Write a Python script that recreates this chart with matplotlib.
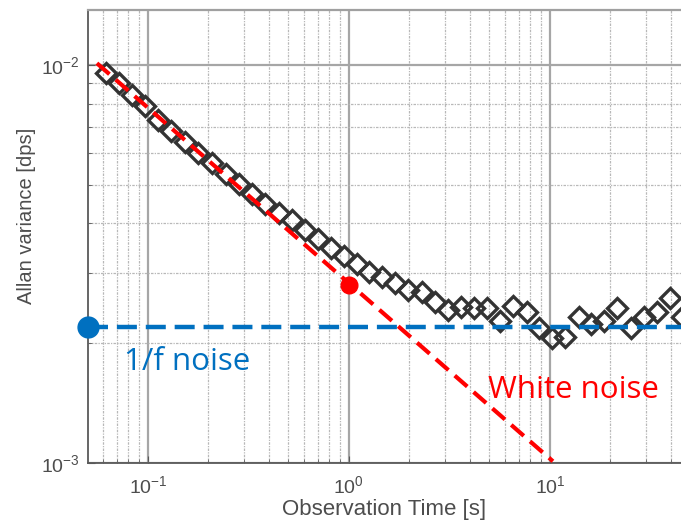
'''
Allan variance vs observation time (log-log)
'''
from matplotlib import pyplot as plt
from matplotlib.ticker import LogLocator, NullFormatter
import numpy as np

plt.rcParams['font.family'] = ['Liberation Sans', 'DejaVu Sans']

tau = [0.0618, 0.0717, 0.0832, 0.0966, 0.112, 0.130, 0.153, 0.177, 0.208, 0.244,
       0.284, 0.329, 0.382, 0.448, 0.520, 0.604, 0.701, 0.813, 0.944, 1.10,
       1.26, 1.46, 1.69, 1.97, 2.31, 2.68, 3.11, 3.61, 4.19, 4.86,
       5.64, 6.55, 7.69, 8.82, 10.2, 11.9, 13.9, 16.0, 18.6, 21.5,
       25.3, 29.4, 34.1, 39.5, 45.4]
avar = [9.55e-3, 9.01e-3, 8.41e-3, 7.89e-3, 7.27e-3, 6.83e-3, 6.41e-3, 6.01e-3, 5.67e-3, 5.32e-3,
        5.02e-3, 4.74e-3, 4.48e-3, 4.25e-3, 4.08e-3, 3.85e-3, 3.66e-3, 3.47e-3, 3.31e-3, 3.16e-3,
        3.02e-3, 2.93e-3, 2.83e-3, 2.72e-3, 2.69e-3, 2.54e-3, 2.42e-3, 2.47e-3, 2.45e-3, 2.45e-3,
        2.27e-3, 2.48e-3, 2.40e-3, 2.18e-3, 2.06e-3, 2.07e-3, 2.33e-3, 2.24e-3, 2.27e-3, 2.45e-3,
        2.18e-3, 2.33e-3, 2.40e-3, 2.60e-3, 2.33e-3]

# white noise asymptote and 1/f floor
white_x = [0.0557, 10.35]
white_y = [1.01e-2, 1.01e-3]
white_pt = (1.0, 2.8e-3)
flicker_level = 2.2e-3

xlim = (0.0503, 44.9)
ylim = (1e-3, 1.374e-2)

fig = plt.figure(figsize=(6.81, 5.30), dpi=100)
ax = fig.add_axes([0.1292, 0.1264, 0.8708, 0.8547])
ax.set_xscale('log')
ax.set_yscale('log')
ax.set_xlim(*xlim)
ax.set_ylim(*ylim)

ax.xaxis.set_major_locator(LogLocator(base=10))
ax.xaxis.set_minor_locator(LogLocator(base=10, subs=np.arange(2, 10)))
ax.yaxis.set_major_locator(LogLocator(base=10))
ax.yaxis.set_minor_locator(LogLocator(base=10, subs=np.arange(2, 10)))
ax.xaxis.set_minor_formatter(NullFormatter())
ax.yaxis.set_minor_formatter(NullFormatter())

ax.grid(True, which='major', color='#a6a6a6', lw=1.6, ls='-', zorder=0)
ax.grid(True, which='minor', color='#b8b8b8', lw=0.9, ls=(0, (2, 1, 1, 1)), zorder=0)
ax.set_axisbelow(True)

ax.tick_params(which='both', direction='in', colors='#595959', labelsize=14,
               labelcolor='#4d4d4d', top=False, right=False)
ax.tick_params(which='major', length=5)
ax.tick_params(which='minor', length=3)
ax.tick_params(axis='x', pad=9)
ax.tick_params(axis='y', pad=6)
for s in ['left', 'bottom']:
    ax.spines[s].set_color('#595959')
    ax.spines[s].set_linewidth(1.3)
ax.spines['top'].set_color('#a0a0a0')
ax.spines['top'].set_linewidth(1.6)
ax.spines['right'].set_visible(False)

ax.plot(tau, avar, ls='none', marker='D', ms=10.5, mfc='none', mec='#333333', mew=2.4, zorder=3)

ax.plot(white_x, white_y, color='#ff0000', lw=3, ls=(0, (4, 2)), zorder=4, clip_on=False)
ax.plot(*white_pt, 'o', color='#ff0000', ms=12, zorder=5)

ax.axhline(flicker_level, color='#0070c0', lw=3.2, ls=(0, (4.5, 2)), zorder=4)
ax.plot(xlim[0], flicker_level, 'o', color='#0070c0', ms=15, zorder=6, clip_on=False)

ax.text(0.076, 1.71e-3, '1/f noise', color='#0070c0', fontsize=22.5,
        family=['Open Sans', 'DejaVu Sans'], ha='left', va='baseline')
ax.text(4.92, 1.46e-3, 'White noise', color='#ff0000', fontsize=22.5,
        family=['Open Sans', 'DejaVu Sans'], ha='left', va='baseline')

ax.set_xlabel('Observation Time [s]', fontsize=16, color='#4d4d4d', labelpad=1)
ax.set_ylabel('Allan variance [dps]', fontsize=14.5, color='#4d4d4d')
ax.yaxis.set_label_coords(-0.088, 0.545)

fig.savefig('out.png', dpi=100)
